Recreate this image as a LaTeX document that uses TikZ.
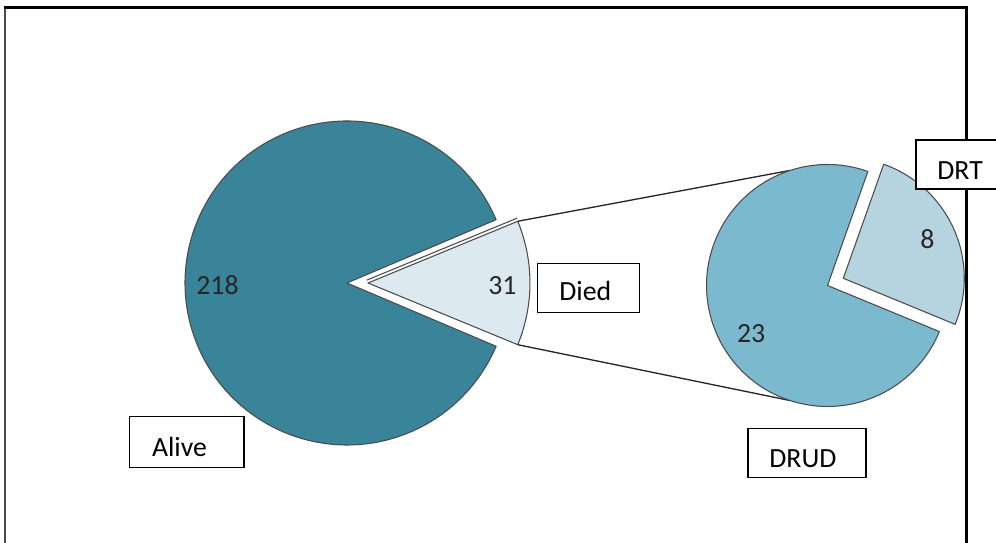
\documentclass[tikz,border=0pt]{standalone}
\usepackage{fontspec}
\setmainfont{Carlito}
\usetikzlibrary{calc}
\definecolor{aliveC}{RGB}{58,132,153}
\definecolor{diedC}{RGB}{220,233,240}
\definecolor{drudC}{RGB}{123,185,207}
\definecolor{drtC}{RGB}{181,212,224}
\definecolor{edgeC}{RGB}{75,75,75}
\definecolor{numC}{RGB}{38,38,38}
\begin{document}
\begin{tikzpicture}[x=0.02cm,y=0.02cm,
  slice/.style={draw=edgeC,line width=0.6pt,line join=round},
  series/.style={draw=black!85,line width=0.75pt},
  labelbox/.style={draw=black,line width=0.9pt,fill=white,inner sep=0pt},
  num/.style={anchor=base west,inner sep=0pt,text=numC,font=\fontsize{15.8}{19}\selectfont},
  lbl/.style={anchor=base west,inner sep=0pt,text=black,font=\fontsize{15.8}{19}\selectfont}]
\useasboundingbox (0,0) rectangle (996,543);
\clip (0,0) rectangle (996,543);
\fill[white] (0,0) rectangle (996,543);
% frame
\draw[line width=1.2pt,black!70] (5,-5) -- (5,535.5);
\draw[line width=1.7pt,black] (4.3,535.5) -- (966.5,535.5) -- (966.5,-5);
% centres
\coordinate (cA) at (347,260);
\coordinate (cD) at (368,260);
\coordinate (cS) at (827.5,257.5);
\coordinate (cT) at (843.3,264.7);
% main pie
\path[slice,fill=aliveC] (cA) -- ++(23:3.24cm) arc[start angle=23,end angle=337,radius=3.24cm] -- cycle;
\path[slice,fill=diedC] (cD) -- ++(-22.4:3.24cm) arc[start angle=-22.4,end angle=22.4,radius=3.24cm] -- cycle;
\coordinate (dTop) at ($(cD)+(22.4:3.24cm)$);
\coordinate (dBot) at ($(cD)+(-22.4:3.24cm)$);
\draw[edgeC,line width=0.6pt] (366.9,262.9) -- (517,324.8);
% secondary tangent points
\coordinate (sTop) at ($(cS)+(108:2.42cm)$);
\coordinate (sBot) at ($(cS)+(-108:2.42cm)$);
\draw[series] (dTop) -- (sTop);
\draw[series] (dBot) -- (sBot);
% secondary pie
\path[slice,fill=drudC] (cS) -- ++(70.5:2.42cm) arc[start angle=70.5,end angle=337.6,radius=2.42cm] -- cycle;
\path[slice,fill=drtC] (cT) -- ++(-22.4:2.42cm) arc[start angle=-22.4,end angle=70.5,radius=2.42cm] -- cycle;
% label boxes
\node[labelbox,minimum width=2.294cm,minimum height=1.02cm] (aliveBox) at (186.7,100.8) {};
\node[labelbox,minimum width=2.04cm,minimum height=0.988cm] (diedBox) at (588.3,255) {};
\node[labelbox,minimum width=2.366cm,minimum height=0.988cm] (drudBox) at (806.85,90) {};
\draw[line width=0.9pt,fill=white] (916,353.7) rectangle (1010,403);
\node[inner sep=0pt] (drtBox) at (960,378.3) {};
% texts
\node[num] (n218) at (196,248) {218};
\node[num] (n31) at (488,248) {31};
\node[num] (n8) at (920,294.7) {8};
\node[num] (n23) at (736.7,200.3) {23};
\node[lbl] (tAlive) at (151.7,86.3) {Alive};
\node[lbl] (tDied) at (559,242.3) {Died};
\node[lbl] (tDRUD) at (769,75.7) {DRUD};
\node[lbl] (tDRT) at (937,363.7) {DRT};
\end{tikzpicture}
\end{document}
